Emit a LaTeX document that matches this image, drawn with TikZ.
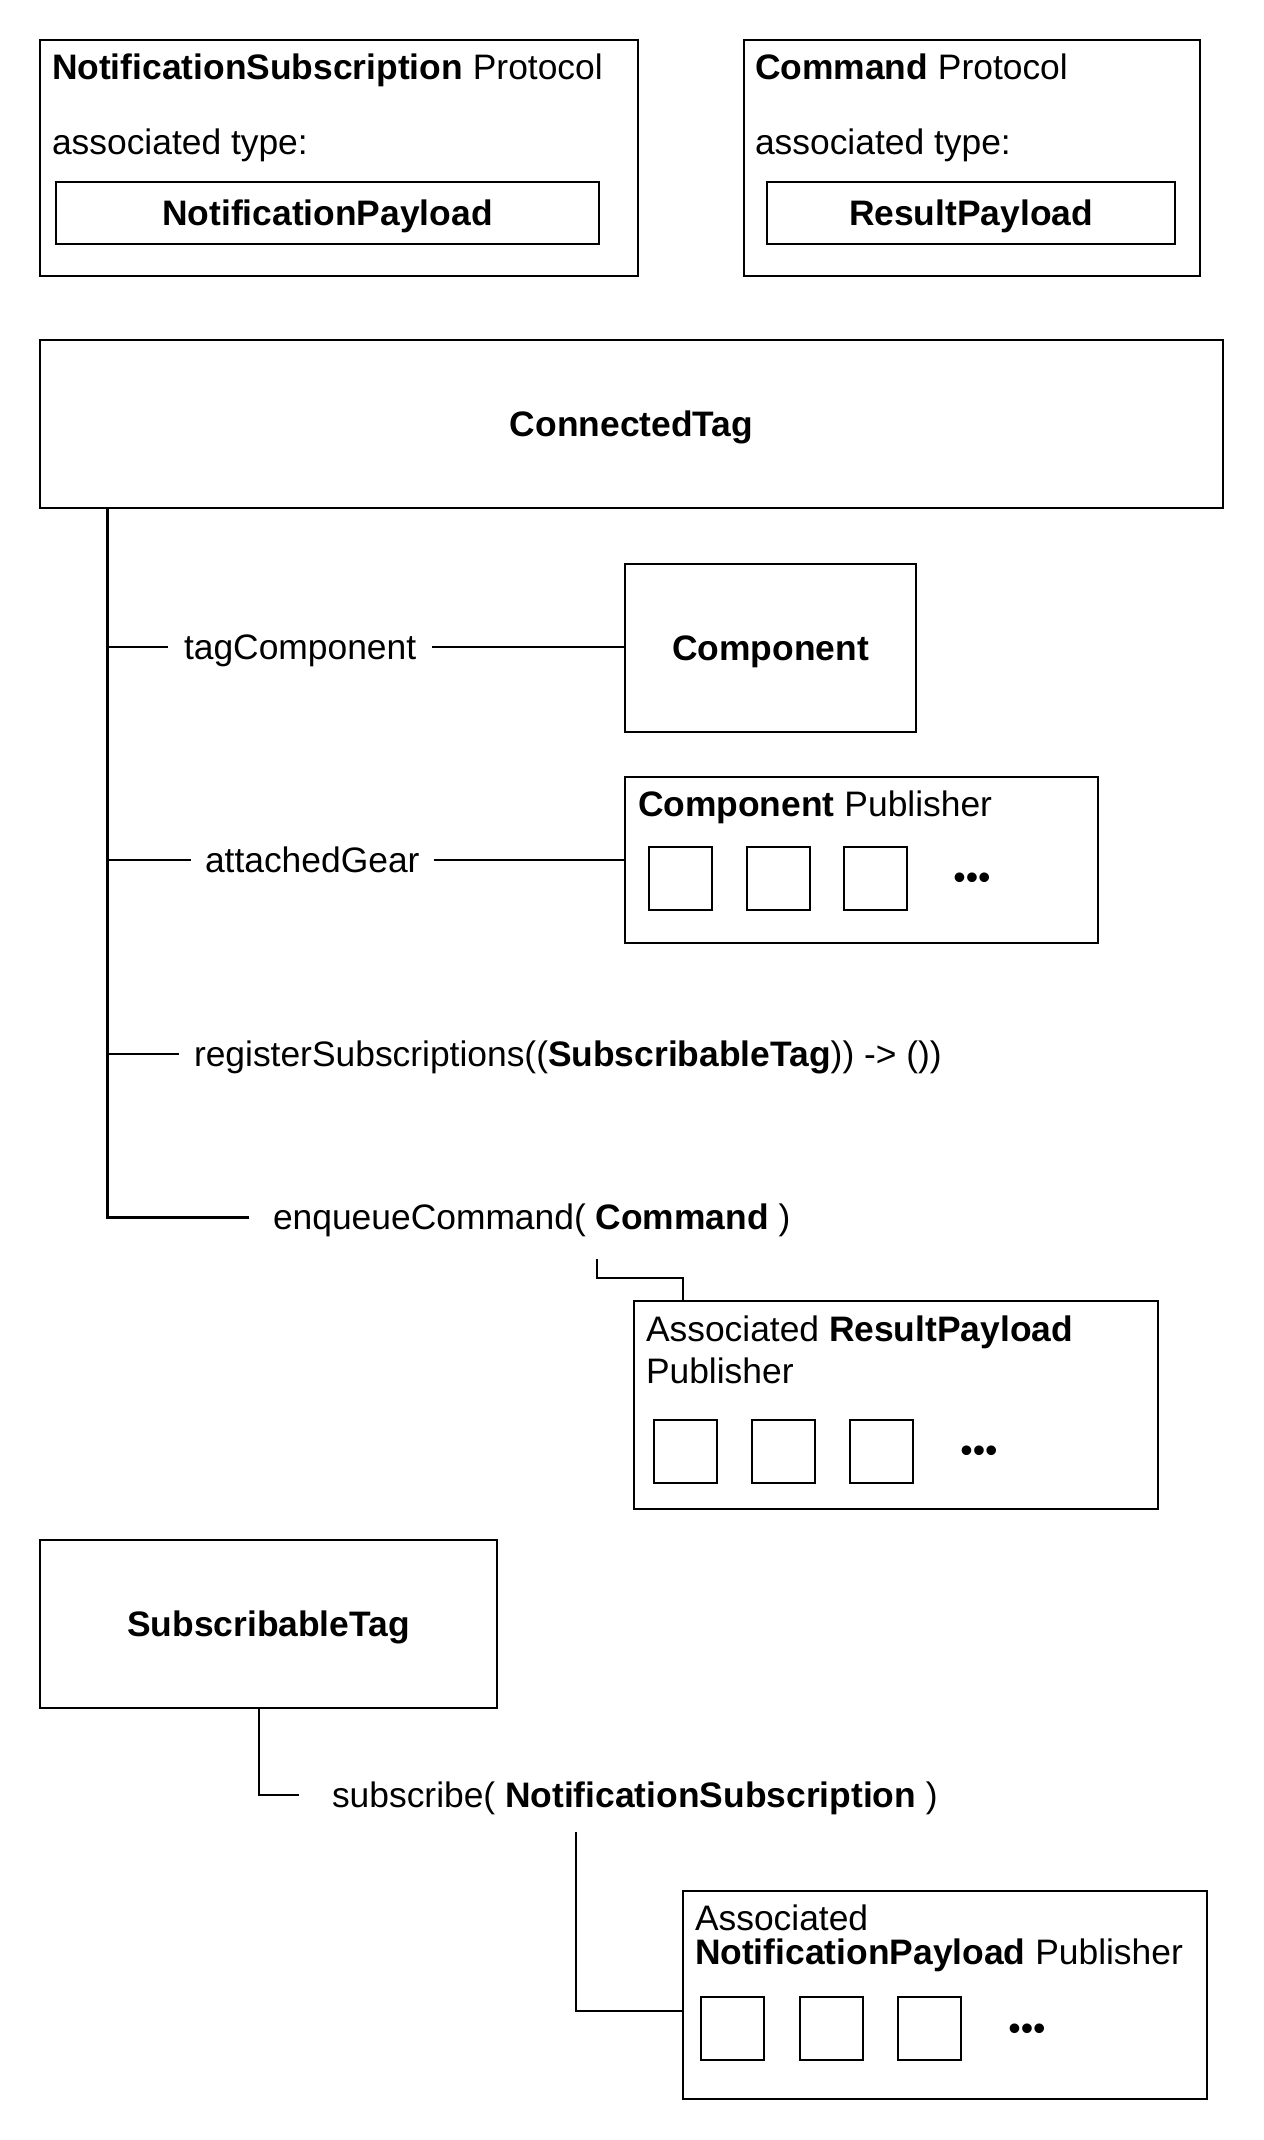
\documentclass[tikz,border=0pt]{standalone}
\usepackage{fontspec}
\setmainfont{Liberation Sans}
\begin{document}
\begin{tikzpicture}[x=0.5pt,y=-0.5pt,
  every node/.style={font=\fontsize{17.7}{21}\selectfont},
  box/.style={draw, line width=1pt, inner sep=0pt, outer sep=0pt, anchor=north west, align=center, text height=12.7pt, text depth=0pt},
  sq/.style={box, minimum width=31.5pt, minimum height=31.5pt},
  lbl/.style={inner sep=0pt, outer sep=0pt, text height=12.7pt, text depth=0pt, anchor=west},
  dots/.style={inner sep=0pt, outer sep=0pt},
  conn/.style={line width=1pt},
  trunk/.style={line width=1.5pt}]
\fill[white] (0,0) rectangle (1263,2140);
\useasboundingbox (0,0) rectangle (1263,2140);

% --- protocols
\node[box, minimum width=299pt, minimum height=118pt] (ns) at (40,40) {};
\node[lbl] (nst) at (52,67) {\textbf{NotificationSubscription} Protocol};
\node[lbl] (nsa) at (52,142) {associated type:};
\node[box, minimum width=271.5pt, minimum height=31pt] (nsp) at (56,182) {\textbf{NotificationPayload}};

\node[box, minimum width=228pt, minimum height=118pt] (cmd) at (744,40) {};
\node[lbl] (cmdt) at (755,67) {\textbf{Command} Protocol};
\node[lbl] (cmda) at (755,142) {associated type:};
\node[box, minimum width=204pt, minimum height=31pt] (cmdp) at (767,182) {\textbf{ResultPayload}};

% --- ConnectedTag
\node[box, minimum width=591.5pt, minimum height=84pt] (ct) at (40,340) {\textbf{ConnectedTag}};
\coordinate (trunktop) at ([xshift=33.5pt]ct.south west);

\node[lbl, inner xsep=8pt] (tc) at (168,647) {tagComponent};
\node[box, minimum width=145.5pt, minimum height=84pt] (comp) at (625,564) {\textbf{Component}};

\node[lbl, inner xsep=7pt] (ag) at (191,860) {attachedGear};
\node[box, minimum width=236.5pt, minimum height=83pt] (cp) at (625,777) {};
\node[lbl] (cpt) at (638,804) {\textbf{Component} Publisher};
\node[sq] (cp1) at (649,847) {};
\node[sq] (cp2) at (747,847) {};
\node[sq] (cp3) at (844,847) {};
\node[dots] (cpd) at (972,881) {•••};

\node[lbl, inner xsep=7.5pt] (rs) at (179,1054) {registerSubscriptions((\textbf{SubscribableTag})) -> ())};

\node[lbl, inner xsep=12pt] (ec) at (249,1217) {enqueueCommand( \textbf{Command} )};
\coordinate (ecA) at (597,1259);

\node[box, minimum width=262pt, minimum height=104pt] (rp) at (634,1301) {};
\node[lbl] (rpt1) at (646,1329) {Associated \textbf{ResultPayload}};
\node[lbl] (rpt2) at (646,1371) {Publisher};
\node[sq] (rp1) at (654,1420) {};
\node[sq] (rp2) at (752,1420) {};
\node[sq] (rp3) at (850,1420) {};
\node[dots] (rpd) at (979,1454) {•••};

% connectors ConnectedTag
\draw[trunk] (trunktop) |- (ec.west);
\draw[conn] (trunktop |- tc.west) -- (tc.west);
\draw[conn] (trunktop |- ag.west) -- (ag.west);
\draw[conn] (trunktop |- rs.west) -- (rs.west);
\draw[conn] (tc.east) -- (tc.east -| comp.west);
\draw[conn] (ag.east) -- (ag.east -| cp.west);
\draw[conn] (ecA) -- ++(0,19) -| ([xshift=24.5pt]rp.north west);

% --- SubscribableTag
\node[box, minimum width=228.5pt, minimum height=84pt] (st) at (40,1540) {\textbf{SubscribableTag}};
\node[lbl, inner xsep=16.5pt] (sub) at (299,1795) {subscribe( \textbf{NotificationSubscription} )};
\coordinate (subA) at (576,1832);

\node[box, minimum width=262pt, minimum height=104pt] (np) at (683,1891) {};
\node[lbl] (npt1) at (695,1918) {Associated};
\node[lbl] (npt2) at (695,1952) {\textbf{NotificationPayload} Publisher};
\node[sq] (np1) at (701,1997) {};
\node[sq] (np2) at (800,1997) {};
\node[sq] (np3) at (898,1997) {};
\node[dots] (npd) at (1027,2032) {•••};

\draw[conn] ([xshift=109.5pt]st.south west) |- (sub.west);
\draw[conn] (subA) |- ([yshift=-8pt]np.west);
\end{tikzpicture}
\end{document}
